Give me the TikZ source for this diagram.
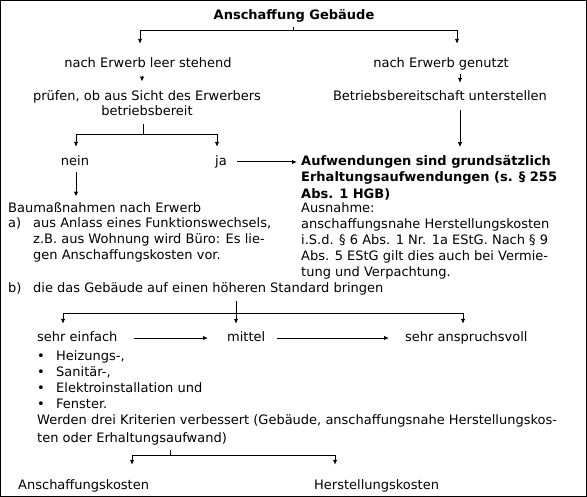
\documentclass[tikz,border=0pt]{standalone}
\usepackage{fontspec}
\setmainfont{DejaVu Sans}
\usetikzlibrary{arrows.meta}
\tikzset{
  txt/.style={inner sep=0pt, anchor=base, font=\fontsize{13bp}{16bp}\selectfont},
  one/.style={txt, text height=10bp, text depth=3bp},
  onel/.style={one, anchor=base west},
  blk/.style={txt, anchor=base west},
  bold/.style={font=\fontsize{13bp}{16.5bp}\selectfont\bfseries},
  conn/.style={line width=1bp, draw=black},
  arr/.style={conn, -{Latex[length=5bp,width=4.5bp]}},
}
\begin{document}
\begin{tikzpicture}[x=1bp,y=-1bp]
\useasboundingbox (0,0) rectangle (587,497);
\draw[line width=1bp] (0.5,0.5) rectangle (586.5,496.5);

% nodes
\node[one,bold] (title) at (294,19.5) {Anschaffung Gebäude};
\node[one] (n1) at (148,67.5) {nach Erwerb leer stehend};
\node[one] (n2) at (441,67.5) {nach Erwerb genutzt};
\node[txt] (p1) at (147,100.5) {\begin{tabular}[t]{@{}c@{}}prüfen, ob aus Sicht des Erwerbers\\[-0.5bp]betriebsbereit\end{tabular}};
\node[one] (b1) at (440,100.5) {Betriebsbereitschaft unterstellen};
\node[one] (nein) at (75,165.5) {nein};
\node[one] (ja) at (221,165.5) {ja};
\node[blk,bold] (auf) at (301,165.5) {\begin{tabular}[t]{@{}l@{}}Aufwendungen sind grundsätzlich\\Erhaltungsaufwendungen (s. § 255\\Abs. 1 HGB)\end{tabular}};
\node[blk] (aus) at (301,212.5) {\begin{tabular}[t]{@{}l@{}}Ausnahme:\\anschaffungsnahe Herstellungskosten\\i.S.d. § 6 Abs. 1 Nr. 1a EStG. Nach § 9\\Abs. 5 EStG gilt dies auch bei Vermie-\\tung und Verpachtung.\end{tabular}};
\node[blk] (bau) at (8,212.5) {\begin{tabular}[t]{@{}p{25bp}@{}l@{}}\multicolumn{2}{@{}l@{}}{Baumaßnahmen nach Erwerb}\\[-0.5bp]a) & aus Anlass eines Funktionswechsels,\\[-0.5bp] & z.B. aus Wohnung wird Büro: Es lie-\\[-0.5bp] & gen Anschaffungskosten vor.\end{tabular}};
\node[blk] (bb) at (8,292.5) {\begin{tabular}[t]{@{}p{25bp}@{}l@{}}b) & die das Gebäude auf einen höheren Standard bringen\end{tabular}};
\node[onel] (se) at (37,341.5) {sehr einfach};
\node[onel] (mi) at (227,341.5) {mittel};
\node[onel] (sa) at (405,341.5) {sehr anspruchsvoll};
\node[blk] (bl) at (37,360) {\begin{tabular}[t]{@{}p{19bp}@{}l@{}}\textbullet & Heizungs-,\\\textbullet & Sanitär-,\\\textbullet & Elektroinstallation und\\\textbullet & Fenster.\end{tabular}};
\node[blk] (wd) at (37,424) {\begin{tabular}[t]{@{}l@{}}Werden drei Kriterien verbessert (Gebäude, anschaffungsnahe Herstellungskos-\\[2bp]ten oder Erhaltungsaufwand)\end{tabular}};
\node[onel] (ak) at (18,489) {Anschaffungskosten};
\node[onel] (hk) at (314,489) {Herstellungskosten};

% junctions
\coordinate (tj) at (293,31);
\coordinate (pj) at (143,135);
\coordinate (bj) at (236,313);
\coordinate (wj) at (170,455);

% connectors
\draw[conn] ([yshift=-4bp]title.south -| tj) -- (tj);
\draw[arr] (tj) -| ([yshift=13.5bp]n1.north -| 140,0);
\draw[arr] (tj) -| ([yshift=13.5bp]n2.north -| 457,0);
\draw[arr] ([yshift=-5bp]n1.south -| 142,0) -- ([yshift=7.5bp]p1.north -| 142,0);
\draw[arr] ([yshift=-3bp]n2.south -| 460,0) -- ([yshift=7.5bp]b1.north -| 460,0);
\draw[conn] ([yshift=-3bp]p1.south -| pj) -- (pj);
\draw[arr] (pj) -| ([yshift=8.5bp]nein.north -| 76,0);
\draw[arr] (pj) -| ([yshift=8.5bp]ja.north -| 217,0);
\draw[arr] ([xshift=10bp]ja.east) -- ([xshift=-4bp]ja.east -| auf.west);
\draw[arr] ([yshift=-6bp]b1.south -| 460,0) -- ([yshift=6.5bp]auf.north -| 460,0);
\draw[arr] ([yshift=-3bp]nein.south -| 76,0) -- ([yshift=4.5bp]bau.north -| 76,0);
\draw[arr] ([yshift=-3bp]bb.south -| bj) -- ([yshift=7.5bp]mi.north -| bj);
\draw[arr] (bj) -| ([yshift=7.5bp]se.north -| 63,0);
\draw[arr] (bj) -| ([yshift=7.5bp]sa.north -| 463,0);
\draw[arr] ([xshift=16bp]se.east) -- ([xshift=-19bp]mi.west);
\draw[arr] ([xshift=12bp]mi.east) -- ([xshift=-16bp]sa.west);
\draw[conn] ([yshift=-3bp]wd.south -| wj) -- (wj);
\draw[arr] (wj) -| ([yshift=14bp]ak.north -| 132,0);
\draw[arr] (wj) -| ([yshift=14bp]hk.north -| 335,0);
\end{tikzpicture}
\end{document}
